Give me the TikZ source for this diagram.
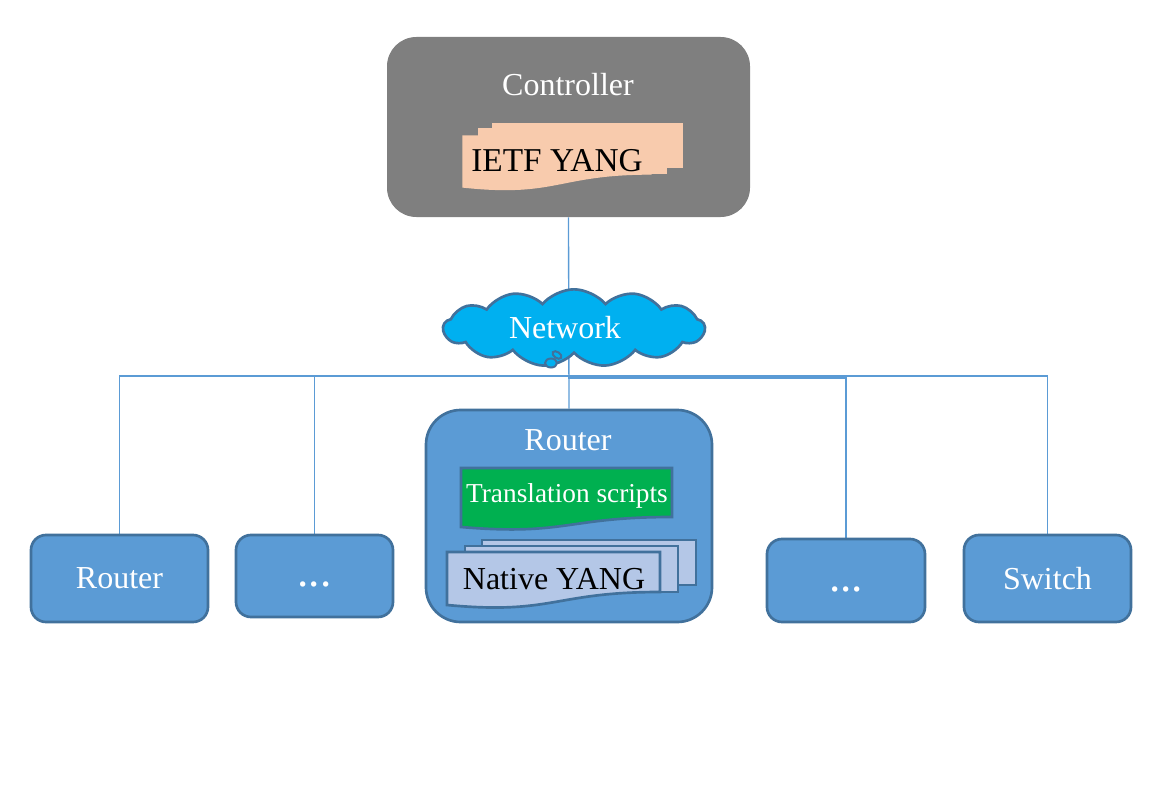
\documentclass[tikz,border=0pt]{standalone}
\usepackage{fontspec}
\setmainfont{Liberation Serif}
\usetikzlibrary{shapes.symbols}
\definecolor{ctrlgray}{HTML}{7F7F7F}
\definecolor{peach}{HTML}{F8CBAD}
\definecolor{devblue}{HTML}{5B9BD5}
\definecolor{devborder}{HTML}{41719C}
\definecolor{netcyan}{HTML}{00B0F0}
\definecolor{scriptgreen}{HTML}{00B050}
\definecolor{lightblue}{HTML}{B4C7E7}
\pgfdeclarelayer{background}
\pgfsetlayers{background,main}
\tikzset{
  device/.style={draw=devborder, fill=devblue, line width=2pt, rounded corners=11.25pt,
    text=white, font=\fontsize{24}{28}\selectfont, inner sep=0pt},
  conn/.style={draw=devblue, line width=1pt},
  ietfsheet/.style={fill=peach, draw=peach, line width=1pt},
  nativesheet/.style={fill=lightblue, draw=devborder, line width=2pt},
  scriptsheet/.style={fill=scriptgreen, draw=devborder, line width=2pt},
  big/.style={font=\fontsize{24}{28}\selectfont, inner sep=0pt},
  dots/.style={text=white, font=\fontsize{34}{38}\selectfont, inner sep=0pt},
}
\begin{document}
\begin{tikzpicture}[x=0.75pt, y=-0.75pt]
\useasboundingbox (0,0) rectangle (1171,792);

% Controller
\node[fill=ctrlgray, rounded corners=22pt, minimum width=272.25pt, minimum height=135pt, inner sep=0pt] (ctrl) at (568.5,127) {};
\node[big, text=white] (ctrltext) at (568,85) {Controller};
% IETF YANG stack
\fill[ietfsheet] (493,124) rectangle (682,167);
\fill[ietfsheet] (479,129) rectangle (666,173);
\fill[ietfsheet] (463,136) -- (651,136) -- (651,174) .. controls (557,174) and (557,197) .. (463,187) -- cycle;
\node[font=\fontsize{25}{29}\selectfont, inner sep=0pt, text=black] (ietf) at (557,161) {IETF YANG};

% Devices
\node[device, minimum width=132.75pt, minimum height=65.25pt] (r1) at (119.5,578.5) {Router};
\node[device, minimum width=117.75pt, minimum height=61.5pt] (d1) at (314.5,576) {};
\node[dots] (d1dots) at (314.5,584) {...};
\node[device, minimum width=118.5pt, minimum height=62.25pt] (d2) at (846,580.5) {};
\node[dots] (d2dots) at (846,589) {...};
\node[device, minimum width=125.25pt, minimum height=65.25pt] (sw) at (1047.5,578.5) {Switch};
\node[device, rounded corners=26pt, minimum width=214.5pt, minimum height=159pt] (rc) at (569,516) {};
\node[big, text=white] (rctext) at (568,440) {Router};

% Translation scripts
\filldraw[scriptsheet] (461,468) -- (672,468) -- (672,517) .. controls (566.5,517) and (566.5,536) .. (461,527) -- cycle;
\node[text=white, font=\fontsize{20.5}{24}\selectfont, inner sep=0pt] (ts) at (567,496) {Translation scripts};

% Native YANG stack
\filldraw[nativesheet] (482,540) rectangle (696,585);
\filldraw[nativesheet] (465,546) rectangle (678,592);
\filldraw[nativesheet] (447,552) -- (660,552) -- (660,592) .. controls (553.5,592) and (553.5,615) .. (447,605) -- cycle;
\node[big, text=black] (native) at (554,579) {Native YANG};

% Network cloud
\node[cloud, cloud puffs=13, cloud puff arc=100, aspect=3.3, fill=netcyan, draw=devborder, line width=2pt,
  minimum width=196pt, minimum height=58pt, inner sep=0pt] (net) at (574,328) {};
\filldraw[fill=netcyan, draw=devborder, line width=1.5pt] (551,363) ellipse [x radius=6, y radius=4.5];
\filldraw[fill=netcyan, draw=devborder, line width=1.5pt, rotate around={-35:(557,355)}] (557,355) ellipse [x radius=5, y radius=3];
\node[big, text=white] (nettext) at (565,328) {Network};

% Connectors
\coordinate (hub) at (568,376);
\coordinate (hubb) at (568,378);
\begin{pgfonlayer}{background}
\draw[conn] (ctrl.south) -- (rc.north);
\draw[conn] (hub) -| (r1.north);
\draw[conn] (hub) -| (d1.north);
\draw[conn] (hubb) -| (d2.north);
\draw[conn] (hub) -| (sw.north);
\end{pgfonlayer}
\end{tikzpicture}
\end{document}
